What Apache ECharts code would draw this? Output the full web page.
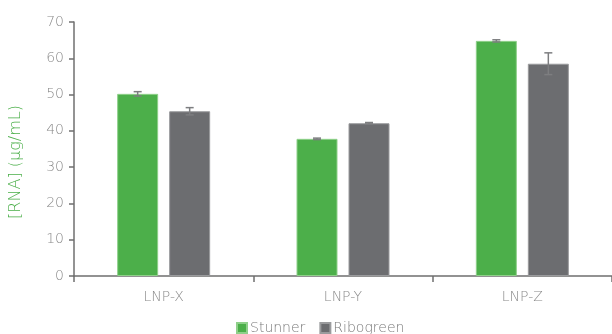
<!DOCTYPE html>
<html>
<head>
<meta charset="utf-8">
<script src="https://cdn.jsdelivr.net/npm/echarts@6/dist/echarts.min.js"></script>
<style>
  html, body { margin: 0; padding: 0; background: #fff; }
  #chart { width: 612px; height: 334px; }
</style>
</head>
<body>
<div id="chart"></div>
<script>
// Formulations and measured RNA concentration (µg/mL), mean ± error
const categories = ['LNP-X', 'LNP-Y', 'LNP-Z'];
const stunner = [50.2, 37.8, 64.8];
const stunnerErr = [0.6, 0.2, 0.3];
const ribogreen = [45.4, 42.1, 58.5];
const ribogreenErr = [1.0, 0.2, 3.0];
const yTicks = { min: 0, max: 70, step: 10 };

const GREEN = '#4caf4a';
const GREY = '#6c6d70';
const BAR_W = 41;
const BAR_GAP = 11;
const FONT = '"DejaVu Sans", sans-serif';
const WEIGHT = 200;

const chart = echarts.init(document.getElementById('chart'), null, { renderer: 'canvas' });

// Whisker renderer: offset from the category centre to the matching bar
function errorSeries(name, values, errors, side) {
  const offset = side * (BAR_W + BAR_GAP) / 2;
  return {
    type: 'custom',
    name: name + ' error',
    z: 5,
    silent: true,
    data: values.map((v, i) => [i, v - errors[i], v + errors[i]]),
    renderItem(params, api) {
      const lo = api.coord([api.value(0), api.value(1)]);
      const hi = api.coord([api.value(0), api.value(2)]);
      const x = lo[0] + offset;
      const cap = 4;
      const style = { stroke: '#7d7e80', lineWidth: 1.5 };
      return {
        type: 'group',
        children: [
          { type: 'line', shape: { x1: x, y1: lo[1], x2: x, y2: hi[1] }, style },
          { type: 'line', shape: { x1: x - cap, y1: hi[1], x2: x + cap, y2: hi[1] }, style },
          { type: 'line', shape: { x1: x - cap, y1: lo[1], x2: x + cap, y2: lo[1] }, style }
        ]
      };
    }
  };
}

chart.setOption({
  animation: false,
  textStyle: { fontFamily: FONT, fontWeight: WEIGHT },
  grid: { left: 73, right: -8, top: 22, bottom: 58 },
  legend: {
    data: ['Stunner', 'Ribogreen'],
    left: 231,
    top: 316,
    itemWidth: 10,
    itemHeight: 10,
    itemGap: 14,
    icon: 'rect',
    textStyle: { color: '#7a7a7a', fontSize: 14, fontFamily: FONT, fontWeight: WEIGHT, padding: [0, 0, 0, -2] }
  },
  xAxis: {
    type: 'category',
    data: categories,
    axisLine: { lineStyle: { color: '#6f6f6f', width: 1.5 } },
    axisTick: { show: true, length: 6, lineStyle: { color: '#6f6f6f', width: 1.5 } },
    axisLabel: { color: '#8a8a8a', fontSize: 14, fontWeight: WEIGHT, margin: 14 }
  },
  yAxis: {
    type: 'value',
    min: yTicks.min,
    max: yTicks.max,
    interval: yTicks.step,
    name: '[RNA] (µg/mL)',
    nameLocation: 'middle',
    nameGap: 50,
    nameTextStyle: { color: GREEN, fontSize: 16, fontFamily: FONT, fontWeight: WEIGHT, padding: [0, 26, 0, 0] },
    splitLine: { show: false },
    axisLine: { show: true, lineStyle: { color: '#6f6f6f', width: 1.5 } },
    axisTick: { show: true, length: 5, lineStyle: { color: '#6f6f6f', width: 1.5 } },
    axisLabel: { color: '#8a8a8a', fontSize: 14, fontWeight: WEIGHT, margin: 10 }
  },
  series: [
    {
      name: 'Stunner',
      type: 'bar',
      data: stunner,
      barWidth: BAR_W,
      barGap: (BAR_GAP / BAR_W * 100) + '%',
      itemStyle: { color: GREEN, borderColor: '#8fd08a', borderWidth: 1 }
    },
    {
      name: 'Ribogreen',
      type: 'bar',
      data: ribogreen,
      barWidth: BAR_W,
      itemStyle: { color: GREY, borderColor: '#9a9b9d', borderWidth: 1 }
    },
    errorSeries('Stunner', stunner, stunnerErr, -1),
    errorSeries('Ribogreen', ribogreen, ribogreenErr, 1)
  ]
});
</script>
</body>
</html>
